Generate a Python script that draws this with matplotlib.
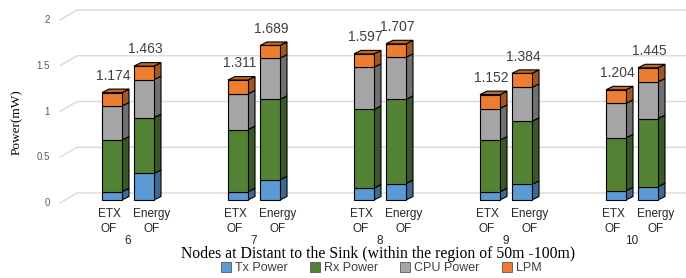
import matplotlib
matplotlib.use("Agg")
import matplotlib.pyplot as plt
from matplotlib.patches import Polygon, Patch

# data (mW)
nodes = ['6', '7', '8', '9', '10']
methods = ['ETX\nOF', 'Energy\nOF']
tx_power = [[0.09, 0.29], [0.09, 0.22], [0.13, 0.18], [0.09, 0.17], [0.10, 0.145]]
rx_power = [[0.566, 0.61], [0.68, 0.88], [0.86, 0.92], [0.565, 0.69], [0.58, 0.745]]
cpu_power = [[0.371, 0.415], [0.39, 0.45], [0.46, 0.46], [0.345, 0.37], [0.375, 0.40]]
lpm = [[0.147, 0.148], [0.151, 0.139], [0.147, 0.147], [0.152, 0.154], [0.149, 0.155]]
totals = [[1.174, 1.463], [1.311, 1.689], [1.597, 1.707], [1.152, 1.384], [1.204, 1.445]]
yticks = [0, 0.5, 1, 1.5, 2]

series = [tx_power, rx_power, cpu_power, lpm]
names = ['Tx Power', 'Rx Power', 'CPU Power', 'LPM']
front = ['#5B9BD5', '#548235', '#A5A5A5', '#ED7D31']
side = ['#3D6A93', '#385923', '#707070', '#A3561F']
top = ['#4A84B8', '#466E2C', '#8C8C8C', '#C4651F']

fig = plt.figure(figsize=(6.86, 2.78), dpi=100)
ax = fig.add_axes([0, 0, 1, 1])
ax.set_xlim(-128 / 126, (686 - 128) / 126)
ax.set_ylim((200 - 278) / 91.5, 200 / 91.5)
ax.axis('off')

sans = 'Liberation Sans'
serif = 'Liberation Serif'

# 3d look: depth of bars and back wall
dx, dy = 7 / 126, 3.5 / 91.5
wall_dy = 7 / 91.5
grid_x0, grid_x1 = (60 - 128) / 126, (77 - 128) / 126

for v in yticks:
    ax.plot([grid_x0, grid_x1, 5], [v - 3 / 91.5, v + wall_dy, v + wall_dy],
            color='#D9D9D9', lw=1, zorder=0)
    ax.text((50 - 128) / 126, v - 3 / 91.5, f'{v:g}', ha='right', va='center',
            fontsize=7, color='#595959', family=sans)

width = 20 / 126
offsets = [-16 / 126, 16 / 126]
label_offsets = [-19 / 126, 24 / 126]

for g in range(len(nodes)):
    for m in range(2):
        x0 = g + offsets[m] - width / 2
        x1 = x0 + width
        bottom = 0
        for s in range(4):
            h = series[s][g][m]
            ax.bar(x0, h, width=width, bottom=bottom, align='edge',
                   color=front[s], edgecolor='black', lw=0.8, zorder=3)
            ax.add_patch(Polygon([(x1, bottom), (x1 + dx, bottom + dy),
                                  (x1 + dx, bottom + h + dy), (x1, bottom + h)],
                                 closed=True, facecolor=side[s],
                                 edgecolor='black', lw=0.8, zorder=2))
            bottom += h
        ax.add_patch(Polygon([(x0, bottom), (x0 + dx, bottom + dy),
                              (x1 + dx, bottom + dy), (x1, bottom)],
                             closed=True, facecolor=top[3],
                             edgecolor='black', lw=0.8, zorder=4))
        ax.text((x0 + x1) / 2 + 0.01, totals[g][m] + 0.14, f'{totals[g][m]:.3f}',
                ha='center', va='baseline', fontsize=10, color='#404040',
                family=sans)
        ax.text(g + label_offsets[m], -0.235, methods[m], ha='center',
                va='center', fontsize=8.5, color='#262626', family=sans,
                linespacing=1.3)
    ax.text(g, -0.448, nodes[g], ha='center', va='center', fontsize=8.5,
            color='#262626', family=sans)

ax.text((17 - 128) / 126, (200 - 122) / 91.5, 'Power(mW)', rotation=90, ha='center',
        va='center', fontsize=9.5, family=serif)
ax.text((378 - 128) / 126, -0.59, 'Nodes at Distant to the Sink (within the region of 50m -100m)',
        ha='center', va='center', fontsize=11.3, family=serif)

handles = [Patch(facecolor=front[s], edgecolor='#404040', lw=0.5) for s in range(4)]
fig.legend(handles, names, loc='center', bbox_to_anchor=(381 / 686, 1 - 268 / 278),
           ncol=4, frameon=False, handlelength=0.8,
           handleheight=0.8, handletextpad=0.3, columnspacing=1.8,
           prop={'family': sans, 'size': 9}, labelcolor='#404040',
           borderpad=0, borderaxespad=0)

fig.savefig('out.png', dpi=100)
